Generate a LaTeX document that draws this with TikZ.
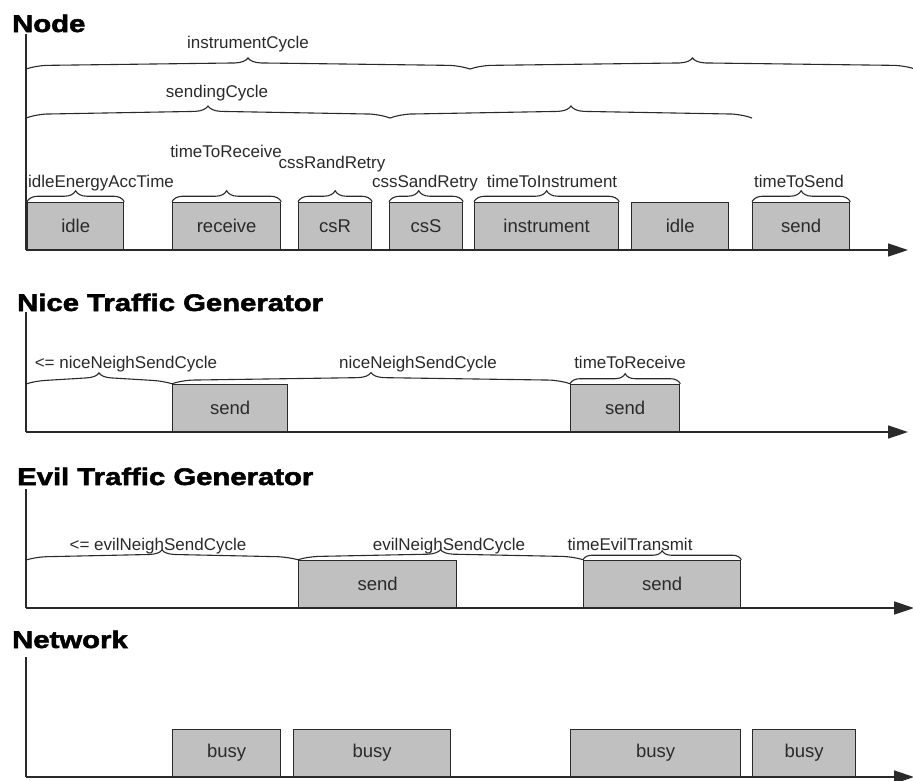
\documentclass[tikz,border=0pt]{standalone}
\usepackage{fontspec}
\setmainfont{Liberation Sans}
\newfontfamily\titlefont{Liberation Sans Bold}[FakeStretch=1.22,FakeBold=2.2]
\usetikzlibrary{arrows.meta,decorations.pathreplacing,calc}

\definecolor{boxgrey}{HTML}{C0C0C0}
\definecolor{ink}{HTML}{2A2A2A}

\tikzset{
  sectitle/.style={anchor=base west, inner sep=0pt, text=black,
    font=\titlefont\fontsize{24}{28}\selectfont},
  lbl/.style={anchor=base, inner sep=0pt, text=ink,
    font=\fontsize{17}{20}\selectfont},
  phase/.style={draw=ink, fill=boxgrey, line width=1.3pt, inner sep=0pt,
    minimum height=47pt, anchor=south west, text=ink,
    font=\fontsize{18.5}{22}\selectfont},
  axisline/.style={draw=ink, line width=1.5pt},
  timeaxis/.style={axisline, -{Triangle[length=20pt,width=13pt]}},
  % short brace sitting on top of a phase box
  cbrace/.style 2 args={draw=ink, line width=1.1pt, decorate,
    decoration={brace, amplitude=#1, aspect=#2}},
  % long, shallow brace spanning an interval (tip in the middle)
  spanbrace/.style={draw=ink, line width=1.1pt,
    to path={let \p1=(\tikztostart), \p2=(\tikztotarget),
      \n1={#1}, \n2={(\x1+\x2)/2} in
      .. controls (\x1+6pt,\y1+0.18*\n1) and (\x1+12pt,\y1+0.28*\n1) .. (\x1+20pt,\y1+0.33*\n1)
      -- (\n2-13pt,\y1+0.55*\n1)
      .. controls (\n2-6pt,\y1+0.58*\n1) and (\n2-2pt,\y1+0.75*\n1) .. (\n2,\y1+\n1)
      .. controls (\n2+2pt,\y1+0.75*\n1) and (\n2+6pt,\y1+0.58*\n1) .. (\n2+13pt,\y1+0.55*\n1)
      -- (\x2-20pt,\y1+0.33*\n1)
      .. controls (\x2-12pt,\y1+0.28*\n1) and (\x2-6pt,\y1+0.18*\n1) .. (\tikztotarget)}}
}

\begin{document}
\begin{tikzpicture}[x=1pt, y=-1pt]
  \useasboundingbox (0,0) rectangle (913,780);

  % ---------------- Node ----------------
  \node[sectitle] (tNode) at (12,32) {Node};
  \coordinate (nTop) at (26,34);
  \coordinate (nO)   at (26,250);
  \coordinate (nEnd) at (908,250);
  \draw[axisline] (nTop) -- (nO);
  \draw[timeaxis] (nO) -- (nEnd);

  % cycle braces
  \coordinate (ic0) at (26,69);
  \coordinate (ic1) at (470,69);
  \coordinate (ic2) at (915,69);
  \draw[spanbrace=11pt] (ic0) to (ic1);
  \draw[spanbrace=11pt] (ic1) to (ic2);
  \node[lbl] (lInstrCycle) at (248,48) {instrumentCycle};

  \coordinate (sc0) at (26,118);
  \coordinate (sc1) at (390,118);
  \coordinate (sc2) at (752,118);
  \draw[spanbrace=12pt] (sc0) to (sc1);
  \draw[spanbrace=12pt] (sc1) to (sc2);
  \node[lbl] (lSendCycle) at (217,97) {sendingCycle};

  % phases
  \node[phase, minimum width=96pt]  (nIdle1)  at (27,250)  {idle};
  \node[phase, minimum width=108pt] (nRecv)   at (172,250) {receive};
  \node[phase, minimum width=73pt]  (nCsR)    at (298,250) {csR};
  \node[phase, minimum width=73pt]  (nCsS)    at (389,250) {csS};
  \node[phase, minimum width=144pt] (nInstr)  at (474,250) {instrument};
  \node[phase, minimum width=97pt]  (nIdle2)  at (631,250) {idle};
  \node[phase, minimum width=97pt]  (nSend)   at (752,250) {send};

  \draw[cbrace={11pt}{0.5}] (nIdle1.north west) -- (nIdle1.north east);
  \draw[cbrace={11pt}{0.5}] (nRecv.north west)  -- (nRecv.north east);
  \draw[cbrace={11pt}{0.5}] (nCsR.north west)   -- (nCsR.north east);
  \draw[cbrace={11pt}{0.4}] (nCsS.north west)   -- (nCsS.north east);
  \draw[cbrace={11pt}{0.5}] (nInstr.north west) -- (nInstr.north east);
  \draw[cbrace={11pt}{0.5}] (nSend.north west)  -- (nSend.north east);

  \node[lbl] (lIdleE)  at (101,187) {idleEnergyAccTime};
  \node[lbl] (lTRecv)  at (226,157) {timeToReceive};
  \node[lbl] (lRand)   at (332,168) {cssRandRetry};
  \node[lbl] (lSand)   at (425,187) {cssSandRetry};
  \node[lbl] (lTInstr) at (552,187) {timeToInstrument};
  \node[lbl] (lTSend)  at (799,187) {timeToSend};

  % ---------------- Nice Traffic Generator ----------------
  \node[sectitle] (tNice) at (17,311) {Nice Traffic Generator};
  \coordinate (gTop) at (26,312);
  \coordinate (gO)   at (26,432);
  \coordinate (gEnd) at (908,432);
  \draw[axisline] (gTop) -- (gO);
  \draw[timeaxis] (gO) -- (gEnd);

  \node[phase, minimum width=115pt] (gSend1) at (172,432) {send};
  \node[phase, minimum width=109pt] (gSend2) at (570,432) {send};

  \coordinate (gb0) at (26,384);
  \draw[spanbrace=11pt] (gb0) to (gSend1.north west);
  \draw[spanbrace=11pt] (gSend1.north west) to (gSend2.north west);
  \draw[cbrace={10pt}{0.5}] (gSend2.north west) -- (gSend2.north east);

  \node[lbl] (lNice1) at (126,368) {<= niceNeighSendCycle};
  \node[lbl] (lNice2) at (418,368) {niceNeighSendCycle};
  \node[lbl] (lNice3) at (630,368) {timeToReceive};

  % ---------------- Evil Traffic Generator ----------------
  \node[sectitle] (tEvil) at (17,485) {Evil Traffic Generator};
  \coordinate (eTop) at (26,489);
  \coordinate (eO)   at (26,608);
  \coordinate (eEnd) at (914,608);
  \draw[axisline] (eTop) -- (eO);
  \draw[timeaxis] (eO) -- (eEnd);

  \node[phase, minimum width=158pt] (eSend1) at (298,608) {send};
  \node[phase, minimum width=157pt] (eSend2) at (583,608) {send};

  \coordinate (eb0) at (26,560);
  \draw[spanbrace=10pt] (eb0) to (eSend1.north west);
  \draw[spanbrace=10pt] (eSend1.north west) to (eSend2.north west);
  \draw[cbrace={9pt}{0.5}] (eSend2.north west) -- (eSend2.north east);

  \node[lbl] (lEvil1) at (158,550) {<= evilNeighSendCycle};
  \node[lbl] (lEvil2) at (449,550) {evilNeighSendCycle};
  \node[lbl] (lEvil3) at (630,550) {timeEvilTransmit};

  % ---------------- Network ----------------
  \node[sectitle] (tNet) at (12,648) {Network};
  \coordinate (wTop) at (26,657);
  \coordinate (wO)   at (26,777);
  \coordinate (wEnd) at (914,777);
  \draw[axisline] (wTop) -- (wO);
  \draw[timeaxis] (wO) -- (wEnd);

  \node[phase, minimum width=108pt] (wBusy1) at (172,777) {busy};
  \node[phase, minimum width=157pt] (wBusy2) at (293,777) {busy};
  \node[phase, minimum width=170pt] (wBusy3) at (570,777) {busy};
  \node[phase, minimum width=103pt] (wBusy4) at (752,777) {busy};
\end{tikzpicture}
\end{document}
